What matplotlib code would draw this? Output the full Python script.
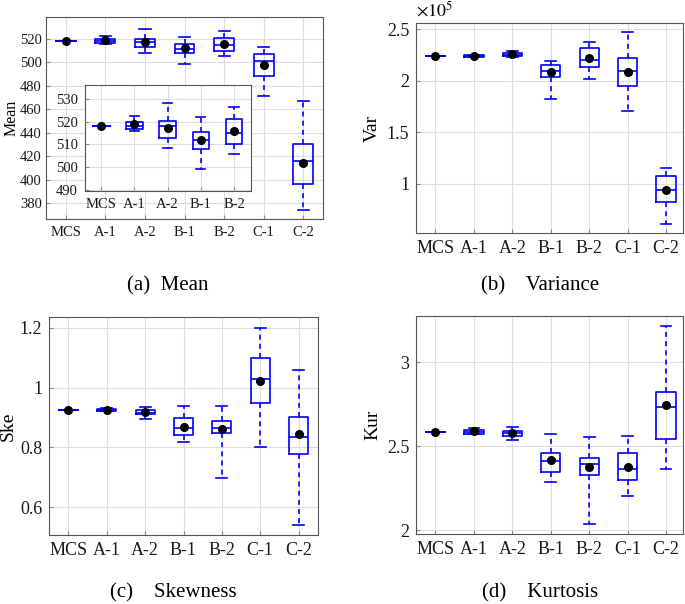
import matplotlib
matplotlib.use("Agg")
import matplotlib.pyplot as plt
from matplotlib.ticker import FuncFormatter, FixedLocator

plt.rcParams['font.family'] = ['Liberation Serif', 'DejaVu Serif']
plt.rcParams['mathtext.fontset'] = 'stix'

methods = ["MCS", "A-1", "A-2", "B-1", "B-2", "C-1", "C-2"]

# (a) Mean
mean_whislo = [518.0, 515.9, 508.5, 499.1, 505.9, 471.1, 374.0]
mean_q1     = [518.0, 516.9, 512.9, 508.0, 510.0, 488.1, 396.5]
mean_med    = [518.0, 518.0, 517.9, 511.9, 515.1, 500.9, 415.6]
mean_q3     = [518.0, 519.7, 520.4, 515.4, 521.1, 506.9, 430.6]
mean_whishi = [518.0, 522.3, 528.3, 521.8, 526.5, 513.2, 467.4]
mean_mean   = [518.0, 518.8, 517.2, 512.1, 516.0, 497.5, 413.9]

# (b) Variance
var_whislo = [224100, 222600, 222500, 182100, 201200, 170800, 61200]
var_q1     = [224100, 223000, 223800, 203100, 213100, 194400, 82500]
var_med    = [224100, 223800, 225000, 209300, 219600, 209300, 94200]
var_q3     = [224100, 224600, 226400, 215100, 231600, 222200, 107100]
var_whishi = [224100, 225000, 229000, 219000, 237700, 247100, 114900]
var_mean   = [224100, 223800, 225400, 208300, 221900, 208300, 94200]

# (c) Skewness
ske_whislo = [0.924, 0.921, 0.896, 0.817, 0.697, 0.801, 0.539]
ske_q1     = [0.924, 0.922, 0.911, 0.842, 0.847, 0.948, 0.777]
ske_med    = [0.924, 0.925, 0.916, 0.866, 0.864, 1.030, 0.836]
ske_q3     = [0.924, 0.930, 0.924, 0.897, 0.888, 1.098, 0.901]
ske_whishi = [0.924, 0.931, 0.936, 0.938, 0.938, 1.200, 1.060]
ske_mean   = [0.924, 0.925, 0.918, 0.869, 0.862, 1.022, 0.845]

# (d) Kurtosis
kur_whislo = [2.583, 2.571, 2.540, 2.290, 2.036, 2.202, 2.363]
kur_q1     = [2.583, 2.575, 2.563, 2.347, 2.329, 2.298, 2.546]
kur_med    = [2.583, 2.587, 2.577, 2.411, 2.393, 2.365, 2.734]
kur_q3     = [2.583, 2.599, 2.593, 2.458, 2.431, 2.460, 2.823]
kur_whishi = [2.583, 2.611, 2.617, 2.573, 2.558, 2.560, 3.218]
kur_mean   = [2.583, 2.589, 2.577, 2.417, 2.379, 2.379, 2.744]

BLUE = (0.0, 0.0, 1.0)
FRAME = '#555555'
GRID = '#dedede'


def make_stats(lo, q1, med, q3, hi, mn, n=None):
    if n is None:
        n = len(lo)
    return [dict(whislo=lo[i], q1=q1[i], med=med[i], q3=q3[i], whishi=hi[i],
                 mean=mn[i], fliers=[], label=methods[i]) for i in range(n)]


def draw(ax, stats, tick_fs):
    ax.bxp(stats, widths=0.5, capwidths=0.28, showmeans=True,
           boxprops=dict(color=BLUE, linewidth=1.2),
           whiskerprops=dict(color=BLUE, linewidth=1.2, linestyle=(0, (3.0, 2.5))),
           capprops=dict(color=BLUE, linewidth=1.2),
           medianprops=dict(color=BLUE, linewidth=1.2),
           meanprops=dict(marker='o', markerfacecolor='black', markeredgecolor='black',
                          markersize=5.5),
           manage_ticks=False, zorder=3)
    n = len(stats)
    ax.set_xticks(range(1, n + 1))
    ax.set_xticklabels(methods[:n])
    ax.grid(True, color=GRID, linewidth=0.8, zorder=0)
    ax.set_axisbelow(True)
    for s in ax.spines.values():
        s.set_color(FRAME)
        s.set_linewidth(0.8)
    ax.tick_params(direction='in', length=3, color='#888888', labelsize=tick_fs,
                   labelcolor='#1a1a1a', pad=5)
    ax.yaxis.set_major_formatter(FuncFormatter(lambda v, p: '%g' % v))


fig = plt.figure(figsize=(6.85, 6.04), dpi=100)

# (a)
axa = fig.add_axes([0.0672, 0.6374, 0.4044, 0.3344])
draw(axa, make_stats(mean_whislo, mean_q1, mean_med, mean_q3, mean_whishi, mean_mean), 10.5)
axa.set_xlim(0.5, 7.5)
axa.set_ylim(366.3, 538.8)
axa.yaxis.set_major_locator(FixedLocator([380, 400, 420, 440, 460, 480, 500, 520]))
axa.tick_params(axis='y', pad=3)
axa.set_ylabel('Mean', fontsize=11.5, va='center')
axa.yaxis.set_label_coords(-0.126, 0.5)

axi = fig.add_axes([0.1236, 0.6843, 0.2423, 0.175])
draw(axi, make_stats(mean_whislo, mean_q1, mean_med, mean_q3, mean_whishi, mean_mean, n=5), 10.5)
axi.set_xlim(0.5, 5.5)
axi.set_ylim(489.7, 536.0)
axi.yaxis.set_major_locator(FixedLocator([490, 500, 510, 520, 530]))
axi.set_facecolor('white')

# (b)
axb = fig.add_axes([0.6077, 0.6137, 0.3898, 0.3487])
draw(axb, make_stats(var_whislo, var_q1, var_med, var_q3, var_whishi, var_mean), 13)
axb.set_xlim(0.5, 7.45)
axb.set_ylim(0.519e5, 2.561e5)
axb.yaxis.set_major_locator(FixedLocator([1e5, 1.5e5, 2e5, 2.5e5]))
axb.yaxis.set_major_formatter(FuncFormatter(lambda v, p: '%g' % (v / 1e5)))
axb.set_ylabel('Var', fontsize=14, labelpad=4)
axb.text(0.0, 1.01, r'$\times10^5$', transform=axb.transAxes, fontsize=13,
         ha='left', va='bottom')

# (c)
axc = fig.add_axes([0.072, 0.1137, 0.3918, 0.3609])
draw(axc, make_stats(ske_whislo, ske_q1, ske_med, ske_q3, ske_whishi, ske_mean), 13)
axc.set_xlim(0.5, 7.5)
axc.set_ylim(0.506, 1.235)
axc.yaxis.set_major_locator(FixedLocator([0.6, 0.8, 1.0, 1.2]))
axc.set_ylabel('Ske', fontsize=14, labelpad=2)

# (d)
axd = fig.add_axes([0.6077, 0.1154, 0.3898, 0.3614])
draw(axd, make_stats(kur_whislo, kur_q1, kur_med, kur_q3, kur_whishi, kur_mean), 13)
axd.set_xlim(0.5, 7.45)
axd.set_ylim(1.976, 3.276)
axd.yaxis.set_major_locator(FixedLocator([2.0, 2.5, 3.0]))
axd.set_ylabel('Kur', fontsize=14, labelpad=4)

# captions
fig.text(168 / 685, 1 - 286 / 604, '(a)  Mean', fontsize=15, ha='center', va='center')
fig.text(540 / 685, 1 - 286 / 604, '(b)    Variance', fontsize=15, ha='center', va='center')
fig.text(173 / 685, 1 - 593 / 604, '(c)    Skewness', fontsize=15, ha='center', va='center')
fig.text(540 / 685, 1 - 593 / 604, '(d)    Kurtosis', fontsize=15, ha='center', va='center')

fig.savefig('out.png', dpi=100, facecolor='white')
